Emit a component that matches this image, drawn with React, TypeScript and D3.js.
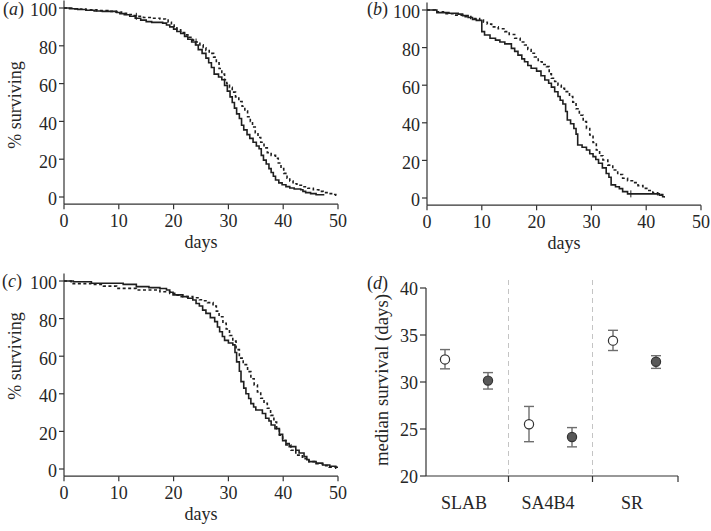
import React from 'react';
import * as d3 from 'd3';

type Pt = [number, number];

const dayTicks = [0, 10, 20, 30, 40, 50];
const pctTicks = [0, 20, 40, 60, 80, 100];

// panel (a)
const aSolid: Pt[] = [[0,100],[1,99.6],[2.5,99.2],[4,98.8],[5.5,98.4],[7,98.2],[9.6,97.6],[10.2,97],[11,96.4],[12,95.6],[13,94.6],[14,93.6],[15,92.8],[16,92.4],[18,92],[18.7,91],[19.3,90],[20,88.8],[20.6,87.6],[21.3,86.5],[22,85],[22.6,83.5],[23.3,82],[24,80.4],[24.5,78],[25.2,76],[25.9,73.5],[26.4,71],[26.9,68.5],[27.4,65],[28.2,63.5],[28.8,62],[29.3,59],[29.8,56],[30.3,53],[30.7,50],[31.1,47],[31.5,44],[32,41.5],[32.4,38],[32.8,35.5],[33.4,33],[33.9,31],[34.5,29],[35.1,27],[35.6,25.5],[36,22],[36.4,19.5],[36.9,17.5],[37.4,15],[37.8,13],[38.2,11],[38.6,9],[39.2,7.5],[39.8,6.5],[40.5,5.5],[41.2,4.8],[42,4.2],[43.2,3.8],[43.6,3],[44.1,2.3],[45,1.8],[46,1.2],[47.5,1.2]];
const aDashed: Pt[] = [[0,100],[2,99.5],[4,99],[6,98.6],[8,98.2],[9.5,97.8],[10.5,97.2],[11.4,96.6],[12.5,96],[13.2,95.6],[14.5,95],[16,94.6],[17.5,94.2],[18.5,93.6],[19,92.5],[19.6,91],[20.1,89.5],[20.6,88.5],[21.3,87],[22,85.8],[22.8,84.5],[23.5,83],[24.1,82],[24.8,80.5],[25.4,79],[25.9,77.5],[26.5,76],[27.3,74],[27.8,71],[28.3,68],[28.8,65],[29.3,62],[29.7,60],[30.2,58],[30.7,55.5],[31.3,53],[31.9,50.5],[32.5,48],[33,45.5],[33.5,42.5],[34,40],[34.4,37],[34.9,34],[35.4,31.5],[35.9,29],[36.5,26],[37.1,23.5],[37.8,22],[38.6,20.5],[39.1,18],[39.6,15],[40.1,12.5],[40.7,10],[41.2,8.5],[41.8,7],[42.5,6.2],[43.5,5.4],[44.5,4.6],[45.5,3.8],[46.5,3],[47.3,2.3],[48.2,1.8],[49,1.3],[49.6,1],[50,1]];
const aCensorDashed: Pt[] = [[13.2,95.6],[24.1,82]];

// panel (b)
const bSolid: Pt[] = [[0,100],[1.8,98.6],[4,98.3],[5.7,97.8],[6.5,97],[7.5,96],[8.3,95],[9,94.5],[10,88.5],[10.5,86.7],[11.5,85],[12.5,84],[13.3,83],[14.2,82],[15.4,79.6],[16,78],[16.6,76],[17.3,74],[17.8,72.5],[18.4,70.5],[19,69],[20,67.5],[20.8,65],[21.5,62.8],[22.2,61],[22.7,59],[23.3,56.5],[23.9,54],[24.3,52],[24.8,50],[25.3,46],[25.6,41.5],[26.2,39.5],[26.8,37],[27.2,34],[27.5,28.2],[28.3,27],[29.1,25.5],[29.7,23.5],[30.3,22],[30.8,20.5],[31.3,18.5],[32,16],[32.7,13],[33.2,11],[33.6,7],[34.4,6],[35.1,5],[35.7,3.4],[36.6,2.2],[42.4,1.5],[43,0.7],[43.4,0.7]];
const bDashed: Pt[] = [[0,100],[1.5,99],[3,98],[5,97.3],[6.5,96.5],[8,95.5],[9.6,94.7],[10.3,93.5],[11,92.5],[11.8,91],[13,90],[14.2,88.5],[15,87],[16,85],[17,83],[17.8,81.4],[18.4,79],[19,77],[19.6,75],[20.3,72.5],[21,71],[21.8,69.9],[22.3,66],[22.7,63.7],[23.3,62],[23.9,60],[24.5,58.3],[25.1,56.6],[26,54],[26.6,51],[27.2,47.5],[27.8,44],[28.5,40.6],[29.1,37],[29.7,33.5],[30.3,29.5],[30.9,25.5],[31.5,22.5],[32.1,20.2],[33,17.5],[33.9,14.9],[34.8,12.5],[35.7,10.5],[36.6,9.2],[37.5,8.2],[38.5,6.6],[39.4,5.1],[40.3,4],[41.2,2.8],[42.1,1.8],[43,0.7],[43.4,0.7]];
const bCensorSolid: Pt[] = [[37.2,2.2]];

// panel (c)
const cSolid: Pt[] = [[0,100],[1.7,99.6],[5,98.8],[10.8,98.2],[13.2,97],[15.5,96.5],[17.5,96],[18.7,95.2],[19.3,94],[19.9,92.6],[21.7,91.7],[22.6,90.8],[23.5,89.9],[24.1,88],[24.7,86.7],[25.3,84.5],[25.9,82.8],[26.7,80.5],[27.5,78.4],[28,75.5],[28.4,73],[28.9,70.5],[29.3,68.4],[30,67],[30.8,66],[31.2,62],[31.5,57],[32,52],[32.3,46.5],[32.8,43],[33.2,40],[33.7,37.5],[34.1,34.8],[34.6,33],[35,31.4],[36.2,29.5],[36.8,27],[37.4,25.5],[37.8,23.4],[38.5,21.5],[39.3,18.5],[39.9,15],[40.5,13.5],[41.1,11.9],[42.3,10],[42.9,8.5],[43.8,6.6],[44.3,5],[44.7,3.9],[46,3.1],[47.2,2.1],[48.5,1.5],[49.6,0.9],[50,0.9]];
const cDashed: Pt[] = [[0,100],[1.3,98.6],[5,98.2],[7.2,97.3],[9.6,96.1],[13.2,95.2],[17.5,94.3],[19.3,93.4],[20.2,92.5],[21.1,91.7],[23.5,91.1],[24.7,90],[25.5,89.5],[26.2,88.5],[27.2,86.7],[27.8,84],[28.3,81],[29,77.5],[29.6,74.5],[30.2,71],[30.8,68],[31.4,63.5],[32,59],[32.7,55.5],[33.5,51.8],[34.1,48],[34.7,44.7],[35.3,41],[35.9,37.6],[36.5,35],[37.1,32.3],[37.7,28.5],[38.3,25],[38.8,21.5],[39.3,18],[39.9,15.3],[40.5,12.8],[41.4,10],[42.3,7.4],[43.5,5.5],[44.7,3.9],[46,2.8],[47.2,1.8],[48.4,1],[49.6,0.4],[50,0.4]];

// panel (d)
const categories = ['SLAB', 'SA4B4', 'SR'];
const groups = ['open', 'filled'];
const medianOpen = [32.4, 25.5, 34.4];
const medianOpenLo = [31.4, 23.65, 33.35];
const medianOpenHi = [33.45, 27.4, 35.5];
const medianFilled = [30.15, 24.15, 32.15];
const medianFilledLo = [29.25, 23.1, 31.45];
const medianFilledHi = [31.0, 25.15, 32.8];
const medianTicks = [20, 25, 30, 35, 40];

const FONT = '"Liberation Serif", "Times New Roman", serif';
const TXT = '#262626';
const AX = '#333';
const LINE = '#1f1f1f';

interface PanelProps {
  solid: Pt[];
  dashed: Pt[];
  censorSolid?: Pt[];
  censorDashed?: Pt[];
  xr: [number, number];
  yr: [number, number];
  label: string;
  labelPos: [number, number];
  yLabelPos?: [number, number];
}

function SurvivalPanel(p: PanelProps) {
  const xs = d3.scaleLinear().domain([0, 50]).range(p.xr);
  const ys = d3.scaleLinear().domain([0, 100]).range(p.yr);
  const line = d3.line<Pt>().x(d => xs(d[0])).y(d => ys(d[1])).curve(d3.curveStepAfter);
  const ax = xs(0);
  const ay = ys(-3.8);
  const yTop = ys(104);
  const censor = (pts: Pt[] | undefined, k: string) =>
    (pts || []).map((d, i) => (
      <line key={k + i} x1={xs(d[0])} x2={xs(d[0])} y1={ys(d[1]) - 3.5} y2={ys(d[1]) + 3.5} stroke={LINE} strokeWidth={1} />
    ));
  return (
    <g>
      <line x1={ax} x2={ax} y1={yTop} y2={ay} stroke={AX} strokeWidth={1.2} />
      {pctTicks.map(t => (
        <g key={'y' + t}>
          <line x1={ax - 5} x2={ax} y1={ys(t)} y2={ys(t)} stroke={AX} strokeWidth={1.2} />
          <text x={ax - 7} y={ys(t) + 2} dy="0.35em" textAnchor="end" fontSize={18} fill={TXT}>{t}</text>
        </g>
      ))}
      <line x1={xs(0)} x2={xs(50)} y1={ay} y2={ay} stroke={AX} strokeWidth={1.2} />
      {dayTicks.map(t => (
        <g key={'x' + t}>
          <line x1={xs(t)} x2={xs(t)} y1={ay} y2={ay + 5} stroke={AX} strokeWidth={1.2} />
          <text x={xs(t)} y={ay + 23} textAnchor="middle" fontSize={18} fill={TXT}>{t}</text>
        </g>
      ))}
      <text x={(xs(0) + xs(50)) / 2} y={ay + 44} textAnchor="middle" fontSize={18} fill={TXT}>days</text>
      {p.yLabelPos && (
        <text transform={`translate(${p.yLabelPos[0]},${p.yLabelPos[1]}) rotate(-90)`} dy="0.35em" textAnchor="middle" fontSize={18} fill={TXT}>% surviving</text>
      )}
      <text x={p.labelPos[0]} y={p.labelPos[1]} fontSize={18} fill={TXT}>
        (<tspan fontStyle="italic">{p.label}</tspan>)
      </text>
      <path d={line(p.dashed) || ''} fill="none" stroke={LINE} strokeWidth={1.6} strokeDasharray="3,2.5" />
      <path d={line(p.solid) || ''} fill="none" stroke={LINE} strokeWidth={1.6} />
      {censor(p.censorSolid, 's')}
      {censor(p.censorDashed, 'd')}
    </g>
  );
}

function MedianPanel() {
  const xb = d3.scaleBand<string>().domain(categories).range([426, 678]);
  const xg = d3.scalePoint<string>().domain(groups).range([19, 62]);
  const ys = d3.scaleLinear().domain([20, 40]).range([476, 288]);
  const bw = xb.bandwidth();
  const seps = categories.slice(1).map(c => (xb(c) as number) - 1.5);
  const series = [
    { g: 'open', v: medianOpen, lo: medianOpenLo, hi: medianOpenHi, fill: '#ffffff' },
    { g: 'filled', v: medianFilled, lo: medianFilledLo, hi: medianFilledHi, fill: '#585858' },
  ];
  return (
    <g>
      {seps.map((x, i) => (
        <g key={'s' + i}>
          <line x1={x} x2={x} y1={280} y2={476} stroke="#c4c4c4" strokeWidth={1} strokeDasharray="5,4" />
          <line x1={x} x2={x} y1={476} y2={482} stroke={AX} strokeWidth={1.2} />
        </g>
      ))}
      <line x1={426} x2={426} y1={ys(40)} y2={ys(20)} stroke={AX} strokeWidth={1.2} />
      <line x1={426} x2={678} y1={ys(20)} y2={ys(20)} stroke={AX} strokeWidth={1.2} />
      <line x1={678} x2={678} y1={ys(20)} y2={ys(20) + 6} stroke={AX} strokeWidth={1.2} />
      {medianTicks.map(t => (
        <g key={'m' + t}>
          <line x1={420} x2={426} y1={ys(t)} y2={ys(t)} stroke={AX} strokeWidth={1.2} />
          <text x={418} y={ys(t) + 1} dy="0.35em" textAnchor="end" fontSize={18} fill={TXT}>{t}</text>
        </g>
      ))}
      {categories.map(c => (
        <text key={c} x={(xb(c) as number) + bw / 2 - 4} y={509} textAnchor="middle" fontSize={18} fill={TXT}>{c}</text>
      ))}
      <text transform="translate(381,380) rotate(-90)" dy="0.35em" textAnchor="middle" fontSize={18.8} fill={TXT}>median survival (days)</text>
      <text x={367} y={289} fontSize={18} fill={TXT}>
        (<tspan fontStyle="italic">d</tspan>)
      </text>
      {series.map(s =>
        categories.map((c, i) => {
          const x = (xb(c) as number) + (xg(s.g) as number);
          return (
            <g key={s.g + c}>
              <line x1={x} x2={x} y1={ys(s.lo[i])} y2={ys(s.hi[i])} stroke="#6e6e6e" strokeWidth={1.4} />
              <line x1={x - 5} x2={x + 5} y1={ys(s.lo[i])} y2={ys(s.lo[i])} stroke="#6e6e6e" strokeWidth={1.4} />
              <line x1={x - 5} x2={x + 5} y1={ys(s.hi[i])} y2={ys(s.hi[i])} stroke="#6e6e6e" strokeWidth={1.4} />
              <circle cx={x} cy={ys(s.v[i])} r={4.6} fill={s.fill} stroke="#333" strokeWidth={1.2} />
            </g>
          );
        })
      )}
    </g>
  );
}

export default function App() {
  return (
    <svg width={711} height={531} viewBox="0 0 711 531" style={{ position: 'absolute', left: 0, top: 0, background: '#fff' }} fontFamily={FONT}>
      <rect x={0} y={0} width={711} height={531} fill="#fff" />
      <SurvivalPanel solid={aSolid} dashed={aDashed} censorDashed={aCensorDashed} xr={[64, 338]} yr={[197, 8]} label="a" labelPos={[3, 15]} yLabelPos={[15, 105]} />
      <SurvivalPanel solid={bSolid} dashed={bDashed} censorSolid={bCensorSolid} xr={[427, 701]} yr={[198, 10]} label="b" labelPos={[367, 15]} />
      <SurvivalPanel solid={cSolid} dashed={cDashed} xr={[64, 338]} yr={[469, 281]} label="c" labelPos={[2, 287]} yLabelPos={[15, 356]} />
      <MedianPanel />
    </svg>
  );
}
